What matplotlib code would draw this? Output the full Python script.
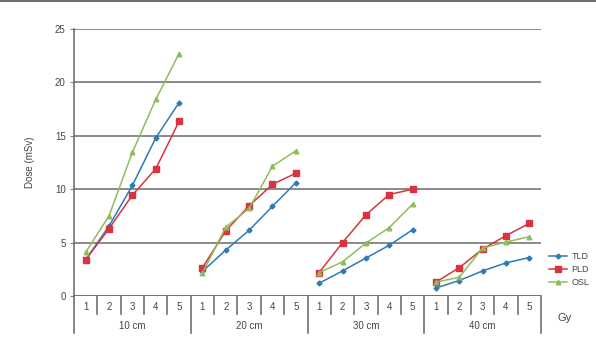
import matplotlib
matplotlib.use('Agg')
import matplotlib.pyplot as plt

plt.rcParams['font.family'] = ['Liberation Sans', 'DejaVu Sans']

groups = ['10 cm', '20 cm', '30 cm', '40 cm']
gy = ['1', '2', '3', '4', '5']

tld = [[3.4, 6.55, 10.35, 14.8, 18.1],
       [2.3, 4.3, 6.15, 8.4, 10.6],
       [1.2, 2.35, 3.55, 4.75, 6.2],
       [0.75, 1.45, 2.35, 3.1, 3.6]]
pld = [[3.4, 6.3, 9.45, 11.9, 16.35],
       [2.65, 6.1, 8.45, 10.45, 11.5],
       [2.2, 5.0, 7.6, 9.5, 10.0],
       [1.3, 2.65, 4.4, 5.65, 6.8]]
osl = [[4.1, 7.5, 13.45, 18.4, 22.7],
       [2.15, 6.45, 8.2, 12.15, 13.6],
       [2.2, 3.2, 4.95, 6.4, 8.6],
       [1.3, 1.75, 4.5, 5.05, 5.55]]

series = [('TLD', tld, '#2b7bb9', 'D', 2.5),
          ('PLD', pld, '#d8343f', 's', 3.8),
          ('OSL', osl, '#8fbc5c', '^', 3.3)]

fig = plt.figure(figsize=(5.96, 3.37), dpi=100)
ax = fig.add_axes([74/596, 1-296/337, 467/596, 267/337])
txt = '#444444'

# top border line
fig.add_artist(plt.Line2D([0, 1], [0.998, 0.998], color='#707070', lw=1.5,
                          transform=fig.transFigure))

for name, data, col, mk, ms in series:
    for g, vals in enumerate(data):
        xs = [g*5 + i for i in range(len(vals))]
        ax.plot(xs, vals, color=col, lw=1.1, marker=mk, ms=ms,
                label=name if g == 0 else None, zorder=3)

ax.set_xlim(-0.5, 19.5)
ax.set_ylim(0, 25)
ax.set_yticks([0, 5, 10, 15, 20, 25])
ax.yaxis.grid(True, color='#808080', lw=1.3)
ax.set_axisbelow(True)
ax.tick_params(axis='y', length=3, color='#808080', labelsize=7,
               labelcolor=txt, pad=3)
ax.set_xticks([])
for s in ['top', 'right', 'bottom']:
    ax.spines[s].set_visible(False)
ax.spines['left'].set_color('#707070')
ax.spines['left'].set_linewidth(1.2)
ax.axhline(0, color='#707070', lw=1.3, zorder=2)
ax.set_ylabel('Dose (mSv)', fontsize=7, color=txt, labelpad=14)

# category axis below
trans = ax.get_xaxis_transform()
for k in range(21):
    x = k - 0.5
    bottom = -0.138 if k % 5 == 0 else -0.068
    ax.plot([x, x], [0, bottom], transform=trans, color='#707070', lw=1.2,
            clip_on=False)
for g, name in enumerate(groups):
    for i, lab in enumerate(gy):
        ax.text(g*5 + i, -0.04, lab, transform=trans, ha='center', va='center',
                fontsize=7, color=txt)
    ax.text(g*5 + 2, -0.112, name, transform=trans, ha='center', va='center',
            fontsize=7, color=txt)
ax.text(1.035, -0.083, 'Gy', transform=ax.transAxes, ha='left', va='center',
        fontsize=8, color=txt)

ax.legend(loc='center left', bbox_to_anchor=(1.0, 0.1), frameon=False,
          fontsize=6.5, handlelength=2.0, labelspacing=0.45, handletextpad=0.5,
          labelcolor=txt)

fig.savefig('out.png', dpi=100)
